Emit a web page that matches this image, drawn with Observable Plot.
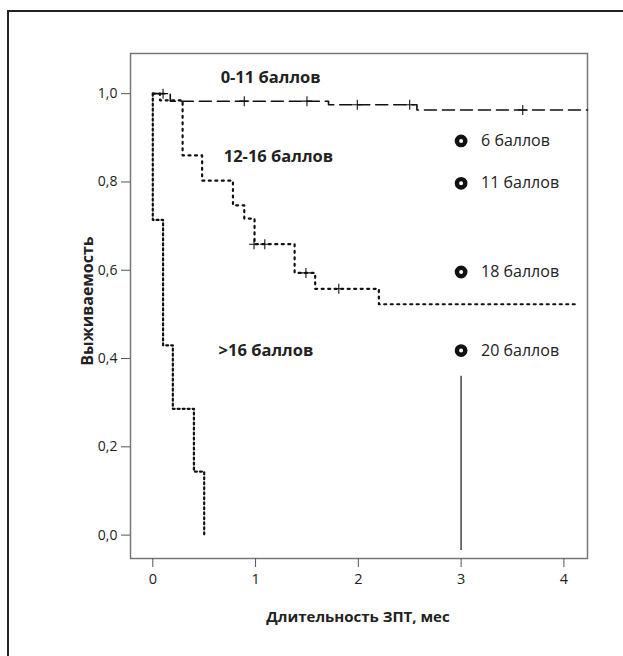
<!DOCTYPE html>
<html>
<head>
<meta charset="utf-8">
<script src="https://cdn.jsdelivr.net/npm/d3@7"></script>
<script src="https://cdn.jsdelivr.net/npm/@observablehq/plot@0.6"></script>
<style>
  html, body { margin: 0; padding: 0; background: #fff; width: 623px; height: 656px; overflow: hidden; }
  #wrap { position: relative; width: 623px; height: 656px; }
  #outer { position: absolute; left: 7px; top: 10px; width: 800px; height: 800px; border-left: 2px solid #222; border-top: 2px solid #222; z-index: 2; pointer-events: none; }
  #chart { position: absolute; left: 0; top: 0; }
</style>
</head>
<body>
<div id="wrap"><div id="chart"></div><div id="outer"></div></div>
<script>
// Group 0-11 баллов (dashed)
const g1Time = [0, 0.17, 1.71, 2.57, 4.23];
const g1Surv = [1.0, 0.983, 0.975, 0.963, 0.963];
const g1CensT = [0.1, 0.89, 1.5, 1.99, 2.5, 3.6];
const g1CensS = [1.0, 0.983, 0.983, 0.975, 0.975, 0.963];

// Group 12-16 баллов (dotted)
const g2Time = [0, 0.07, 0.29, 0.48, 0.78, 0.89, 0.99, 1.38, 1.58, 2.2, 4.13];
const g2Surv = [1.0, 0.985, 0.86, 0.803, 0.747, 0.717, 0.659, 0.594, 0.558, 0.523, 0.523];
const g2CensT = [0.985, 1.09, 1.49, 1.81];
const g2CensS = [0.659, 0.659, 0.594, 0.558];

// Group >16 баллов (dense dots)
const g3Time = [0, 0, 0.1, 0.195, 0.4, 0.5, 0.5];
const g3Surv = [1.0, 0.714, 0.43, 0.286, 0.144, 0.144, 0];

// Group labels
const groupLabels = ["0-11 баллов", "12-16 баллов", ">16 баллов"];
const groupLabelX = [0.66, 0.69, 0.64];
const groupLabelY = [1.036, 0.858, 0.418];

// Marker labels
const markerLabels = ["6 баллов", "11 баллов", "18 баллов", "20 баллов"];
const markerX = [3, 3, 3, 3];
const markerY = [0.893, 0.797, 0.596, 0.418];

// Vertical reference line
const refX = [3];
const refY1 = [-0.035];
const refY2 = [0.36];

const xTicks = [0, 1, 2, 3, 4];
const yTicks = [0, 0.2, 0.4, 0.6, 0.8, 1.0];

const zip = (xs, ys) => xs.map((x, i) => ({x, y: ys[i]}));
const g1 = zip(g1Time, g1Surv), g2 = zip(g2Time, g2Surv), g3 = zip(g3Time, g3Surv);
const c1 = zip(g1CensT, g1CensS), c2 = zip(g2CensT, g2CensS);
const labels = groupLabels.map((t, i) => ({t, x: groupLabelX[i], y: groupLabelY[i]}));
const markers = markerLabels.map((t, i) => ({t, x: markerX[i], y: markerY[i]}));
const refs = refX.map((x, i) => ({x, y1: refY1[i], y2: refY2[i]}));

const cross = { draw(ctx, size) { const r = 5; ctx.moveTo(-r, 0); ctx.lineTo(r, 0); ctx.moveTo(0, -r); ctx.lineTo(0, r); } };

const plot = Plot.plot({
  width: 623,
  height: 656,
  marginLeft: 130,
  marginRight: 36,
  marginTop: 53,
  marginBottom: 98,
  style: { fontFamily: "'Open Sans', sans-serif", fontSize: "14px", color: "#222", background: "transparent" },
  x: { domain: [-0.217, 4.23] },
  y: { domain: [-0.053, 1.091] },
  marks: [
    Plot.frame({ stroke: "#777", strokeWidth: 1.5 }),
    Plot.axisX({ ticks: xTicks, tickSize: 9, tickPadding: 6, stroke: "#555", fill: "#222", fontSize: 14.5, label: null,
      tickFormat: d => String(d) }),
    Plot.axisY({ ticks: yTicks, tickSize: 9, tickPadding: 4, stroke: "#555", fill: "#222", fontSize: 14, label: null,
      tickFormat: d => d.toFixed(1).replace(".", ",") }),
    Plot.text(["Выживаемость"], { frameAnchor: "left", textAnchor: "middle", lineAnchor: "middle", dx: -43, dy: -5, rotate: -90, fontWeight: "bold", fontSize: 16, fill: "#222" }),
    Plot.text(["Длительность ЗПТ, мес"], { frameAnchor: "bottom", textAnchor: "middle", lineAnchor: "middle", dy: 59, dx: -1, fontWeight: "bold", fontSize: 15, fill: "#222" }),
    Plot.ruleX(refs, { x: "x", y1: "y1", y2: "y2", stroke: "#444", strokeWidth: 1.5 }),
    Plot.line(g1, { x: "x", y: "y", curve: "step-after", stroke: "#111", strokeWidth: 1.6, strokeDasharray: "12,6" }),
    Plot.line(g2, { x: "x", y: "y", curve: "step-after", stroke: "#111", strokeWidth: 2.2, strokeDasharray: "2,4.5" }),
    Plot.line(g3, { x: "x", y: "y", curve: "step-after", stroke: "#111", strokeWidth: 2.2, strokeDasharray: "2,3" }),
    Plot.dot(c1, { x: "x", y: "y", symbol: cross, stroke: "#111", strokeWidth: 1.1, fill: "none" }),
    Plot.dot(c2, { x: "x", y: "y", symbol: cross, stroke: "#111", strokeWidth: 1.1, fill: "none" }),
    Plot.text(labels, { x: "x", y: "y", text: "t", textAnchor: "start", fontWeight: "bold", fontSize: 16.5, fill: "#222" }),
    Plot.dot(markers, { x: "x", y: "y", r: 4.2, stroke: "#111", strokeWidth: 4.4, fill: "white" }),
    Plot.text(markers, { x: "x", y: "y", text: "t", dx: 20, textAnchor: "start", fontSize: 16, fill: "#222" })
  ]
});
document.getElementById("chart").appendChild(plot);
</script>
</body>
</html>
